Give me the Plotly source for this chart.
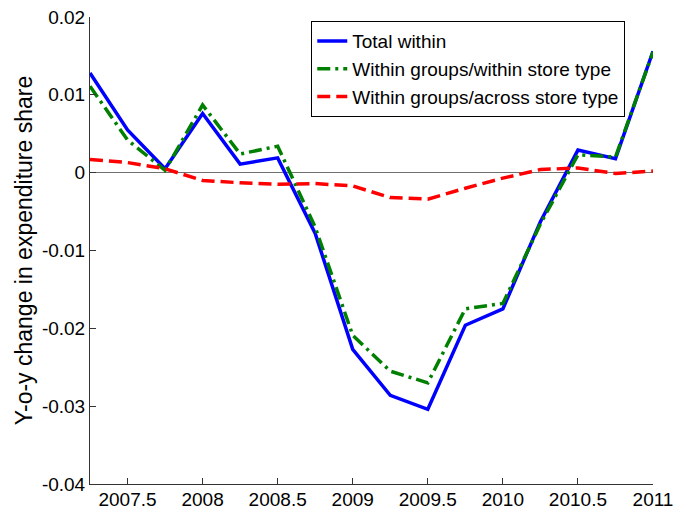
import plotly.graph_objects as go

# quarterly observations
quarters = [2007.25, 2007.5, 2007.75, 2008.0, 2008.25, 2008.5, 2008.75, 2009.0,
            2009.25, 2009.5, 2009.75, 2010.0, 2010.25, 2010.5, 2010.75, 2011.0]

total_within = [0.0128, 0.0055, 0.0005, 0.0076, 0.0011, 0.0019, -0.0078, -0.0227,
                -0.0286, -0.0304, -0.0196, -0.0175, -0.0063, 0.0029, 0.0018, 0.0156]
within_within = [0.0111, 0.0042, 0.0003, 0.0087, 0.0024, 0.0034, -0.0070, -0.0209,
                 -0.0255, -0.0270, -0.0175, -0.0168, -0.0066, 0.0023, 0.0020, 0.0155]
within_across = [0.0017, 0.0013, 0.0005, -0.0010, -0.0013, -0.0015, -0.0014, -0.0017,
                 -0.0032, -0.0034, -0.0020, -0.0007, 0.0004, 0.0006, -0.0001, 0.0002]

x_ticks = [2007.5, 2008, 2008.5, 2009, 2009.5, 2010, 2010.5, 2011]
x_labels = ["2007.5", "2008", "2008.5", "2009", "2009.5", "2010", "2010.5", "2011"]
y_ticks = [0.02, 0.01, 0, -0.01, -0.02, -0.03, -0.04]
y_labels = ["0.02", "0.01", "0", "-0.01", "-0.02", "-0.03", "-0.04"]

font = "Liberation Sans, Arial, sans-serif"

fig = go.Figure()

fig.add_trace(go.Scatter(
    x=quarters, y=total_within, mode="lines", name="Total within",
    line=dict(color="#0000ff", width=3.5)
))
fig.add_trace(go.Scatter(
    x=quarters, y=within_within, mode="lines", name="Within groups/within store type",
    line=dict(color="#008000", width=3.5, dash="13px,5px,3px,5px")
))
fig.add_trace(go.Scatter(
    x=quarters, y=within_across, mode="lines", name="Within groups/across store type",
    line=dict(color="#ff0000", width=3.5, dash="13px,6px")
))

fig.update_layout(
    width=675, height=510,
    margin=dict(l=90, r=22, t=17, b=26),
    plot_bgcolor="white", paper_bgcolor="white",
    font=dict(family=font, size=19, color="black"),
    showlegend=True,
    legend=dict(
        x=0.393, y=0.991, xanchor="left", yanchor="top",
        bordercolor="black", borderwidth=1, bgcolor="white",
        font=dict(size=19), tracegroupgap=0,
    ),
)

fig.update_xaxes(
    range=[2007.25, 2011], tickvals=x_ticks, ticktext=x_labels,
    showgrid=False, zeroline=False, showline=True, linecolor="#333", linewidth=1,
    ticks="inside", ticklen=6, tickcolor="#333", automargin=False,
    ticklabelstandoff=-2,
)
fig.update_yaxes(
    range=[-0.04, 0.02], tickvals=y_ticks, ticktext=y_labels,
    showgrid=False, zeroline=True, zerolinecolor="#707070", zerolinewidth=1,
    showline=True, linecolor="#333", linewidth=1,
    ticks="inside", ticklen=6, tickcolor="#333", automargin=False,
    title=dict(text="Y-o-y change in expenditure share", standoff=2),
)

# drop the default 8px body margin so the figure fills the window exactly
fig.write_html("out.html", config={"displayModeBar": False},
               post_script="document.body.style.margin='0px';")
